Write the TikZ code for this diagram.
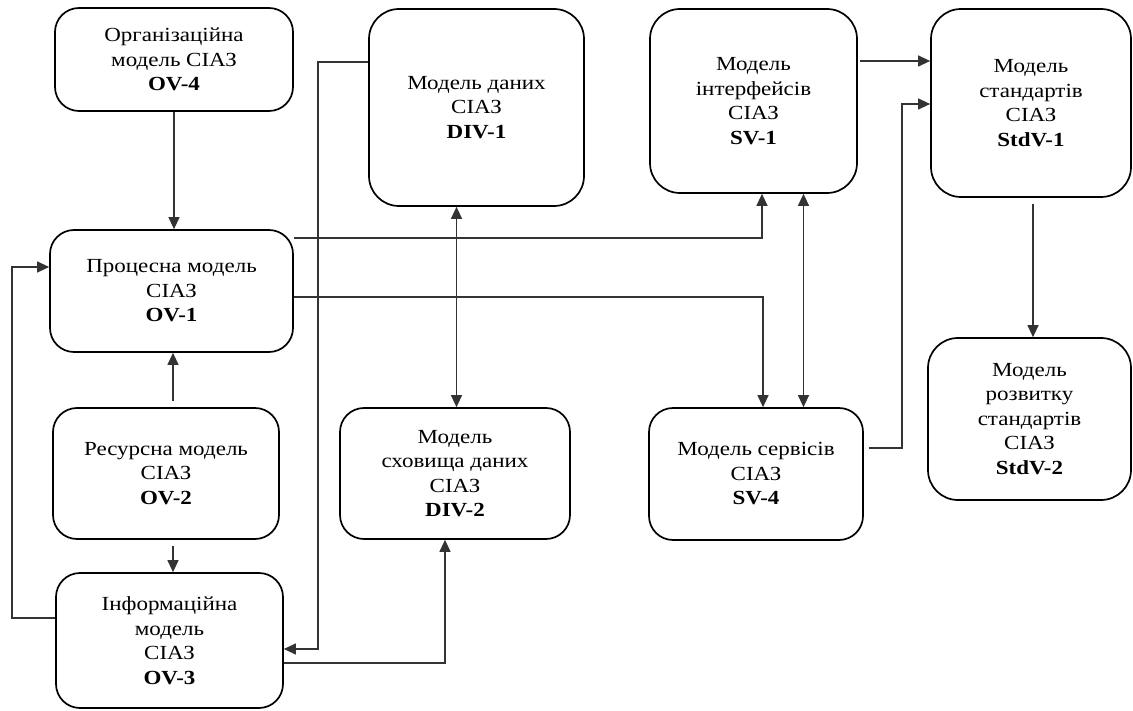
\documentclass[tikz,border=0pt]{standalone}
\usepackage{fontspec}
\setmainfont{Liberation Serif}[FakeStretch=1.15]
\usetikzlibrary{arrows.meta}
\begin{document}
\begin{tikzpicture}[x=1pt,y=-1pt,
  box/.style={draw=black,line width=1.7pt,rounded corners=24pt,align=center,inner sep=0pt,
    font=\fontsize{20}{24.5}\selectfont,text=black},
  tallbox/.style={box,rounded corners=30pt},
  arr/.style={draw=black!80,line width=1.2pt,-{Triangle[length=12pt,width=11pt]}},
  arr2/.style={draw=black!80,line width=1.2pt,{Triangle[length=12pt,width=11pt]}-{Triangle[length=12pt,width=11pt]}}]
\fill[white] (0,0) rectangle (1133,711);
\useasboundingbox (0,0) rectangle (1133,711);

\node[box,minimum width=238pt,minimum height=103pt] (ov4) at (174,59.5) {Організаційна\\модель СІАЗ\\\textbf{OV-4}};
\node[tallbox,minimum width=215pt,minimum height=197pt] (div1) at (476.5,107.5) {Модель даних\\СІАЗ\\\textbf{DIV-1}};
\node[tallbox,minimum width=207pt,minimum height=184pt] (sv1) at (753.5,101) {Модель\\інтерфейсів\\СІАЗ\\\textbf{SV-1}};
\node[tallbox,minimum width=200pt,minimum height=188pt] (stdv1) at (1031,103) {Модель\\стандартів\\СІАЗ\\\textbf{StdV-1}};
\node[box,minimum width=243pt,minimum height=122pt] (ov1) at (171.5,291) {Процесна модель\\СІАЗ\\\textbf{OV-1}};
\node[box,minimum width=226pt,minimum height=131pt] (ov2) at (166,473.5) {Ресурсна модель\\СІАЗ\\\textbf{OV-2}};
\node[box,minimum width=227pt,minimum height=135pt] (ov3) at (169.5,640.5) {Інформаційна\\модель\\СІАЗ\\\textbf{OV-3}};
\node[box,minimum width=230pt,minimum height=131pt] (div2) at (455,473.5) {Модель\\сховища даних\\СІАЗ\\\textbf{DIV-2}};
\node[box,minimum width=214pt,minimum height=132pt] (sv4) at (756,474) {Модель сервісів\\СІАЗ\\\textbf{SV-4}};
\node[tallbox,minimum width=203pt,minimum height=162pt] (stdv2) at (1029.5,419) {Модель\\розвитку\\стандартів\\СІАЗ\\\textbf{StdV-2}};

\coordinate (a1) at (174,0);
\coordinate (a2) at (173,0);
\coordinate (b4a) at (12,618);
\coordinate (b4b) at (12,267);
\coordinate (b5) at (762,238);
\coordinate (b6) at (763,297);
\coordinate (a7) at (456.5,0);
\coordinate (a8) at (803.5,0);
\coordinate (b9a) at (318,62);
\coordinate (b9b) at (318,649);
\coordinate (b10) at (445,663);
\coordinate (b11) at (0,61);
\coordinate (b12a) at (902,448);
\coordinate (b12b) at (902,104);
\coordinate (a13) at (1033,0);

\draw[arr] (ov4.south -| a1) -- (ov1.north -| a1);
\draw[arr,shorten <=6pt] (ov2.north -| a2) -- (ov1.south -| a2);
\draw[arr,shorten <=6pt] (ov2.south -| a2) -- (ov3.north -| a2);
\draw[arr] (ov3.west |- b4a) -- (b4a) -- (b4b) -- (ov1.west |- b4b);
\draw[arr] (ov1.east |- b5) -- (b5) -- (sv1.south -| b5);
\draw[arr] (ov1.east |- b6) -- (b6) -- (sv4.north -| b6);
\draw[arr2] (div1.south -| a7) -- (div2.north -| a7);
\draw[arr2] (sv1.south -| a8) -- (sv4.north -| a8);
\draw[arr] (div1.west |- b9a) -- (b9a) -- (b9b) -- (ov3.east |- b9b);
\draw[arr] (ov3.east |- b10) -- (b10) -- (div2.south -| b10);
\draw[arr,shorten <=2pt] (sv1.east |- b11) -- (stdv1.west |- b11);
\draw[arr,shorten <=5pt] (sv4.east |- b12a) -- (b12a) -- (b12b) -- (stdv1.west |- b12b);
\draw[arr,shorten <=6pt] (stdv1.south -| a13) -- (stdv2.north -| a13);
\end{tikzpicture}
\end{document}
